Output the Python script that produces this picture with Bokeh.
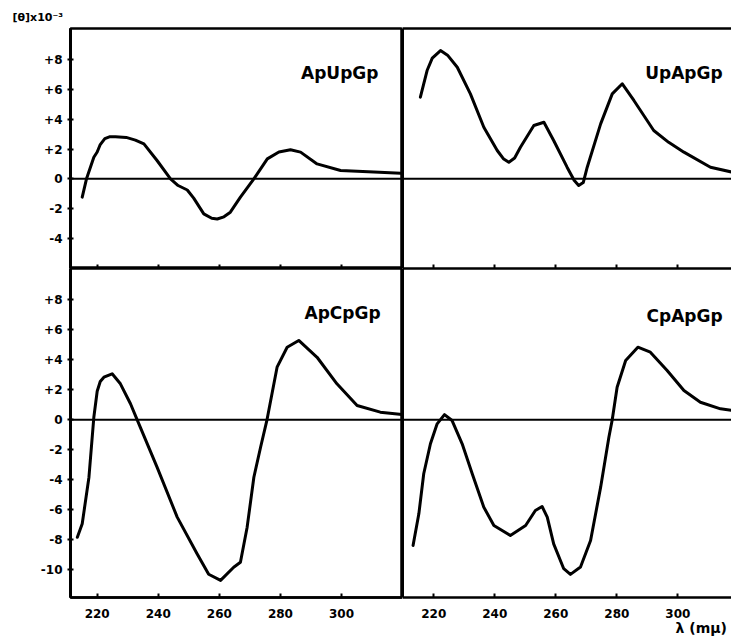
from bokeh.plotting import figure
from bokeh.layouts import row, column
from bokeh.models import Range1d, Span, Label, LinearAxis, FixedTicker, Title
from bokeh.embed import file_html
from bokeh.resources import INLINE

FONT = "DejaVu Sans"

# ---------------- data ----------------
wavelength_ticks = [220, 240, 260, 280, 300]
top_tick_values = [-4, -2, 0, 2, 4, 6, 8]
top_tick_labels = ["-4", "-2", "0", "+2", "+4", "+6", "+8"]
bottom_tick_values = [-10, -8, -6, -4, -2, 0, 2, 4, 6, 8]
bottom_tick_labels = ["-10", "-8", "-6", "-4", "-2", "0", "+2", "+4", "+6", "+8"]

apupgp_wl = [215.1, 216.5, 218.9, 220.0, 221.0, 222.5, 224.0, 226.0, 229.5, 232.5, 235.3,
             239.6, 244.0, 246.5, 249.5, 251.6, 254.9, 257.5, 259.3, 261.5, 263.6, 266.9,
             271.3, 275.7, 279.5, 283.3, 286.6, 292.0, 299.7, 310.6, 319.4]
apupgp_val = [-1.23, 0.0, 1.45, 1.8, 2.3, 2.7, 2.82, 2.82, 2.78, 2.6, 2.35,
              1.23, 0.0, -0.45, -0.75, -1.3, -2.35, -2.65, -2.7, -2.55, -2.24, -1.23,
              0.0, 1.34, 1.8, 1.95, 1.79, 1.0, 0.56, 0.45, 0.38]

upapgp_wl = [215.6, 217.8, 219.5, 222.2, 224.5, 227.7, 232.0, 236.4, 240.8, 242.8, 244.6,
             246.5, 248.4, 252.8, 256.1, 259.3, 263.7, 266.0, 267.5, 269.0, 270.3, 274.7,
             278.5, 281.8, 285.6, 292.1, 297.0, 302.0, 310.7, 317.8]
upapgp_val = [5.48, 7.27, 8.1, 8.61, 8.3, 7.49, 5.7, 3.46, 1.9, 1.35, 1.11,
              1.4, 2.12, 3.58, 3.8, 2.57, 0.78, -0.1, -0.45, -0.25, 0.78, 3.69,
              5.7, 6.38, 5.26, 3.24, 2.45, 1.79, 0.78, 0.45]

apcpgp_wl = [213.5, 215.1, 217.3, 218.9, 220.0, 221.0, 222.2, 224.9, 227.6, 230.9, 233.1,
             239.6, 246.2, 252.7, 256.5, 260.4, 264.7, 266.9, 269.1, 271.3, 273.5, 275.6,
             278.9, 282.2, 286.0, 292.0, 298.5, 305.1, 312.7, 319.8]
apcpgp_val = [-7.83, -6.93, -3.83, 0.17, 1.9, 2.55, 2.84, 3.07, 2.4, 1.07, 0.0,
              -3.16, -6.49, -8.93, -10.3, -10.71, -9.83, -9.5, -7.16, -3.83, -1.83, 0.0,
              3.51, 4.84, 5.29, 4.17, 2.4, 0.95, 0.51, 0.35]

cpapgp_wl = [213.2, 215.1, 216.7, 218.9, 221.1, 223.5, 226.0, 229.3, 232.6, 236.4, 239.7,
             245.1, 250.1, 253.3, 255.5, 257.2, 259.3, 262.6, 264.8, 268.1, 271.4, 274.7,
             277.4, 278.5, 280.1, 282.9, 286.9, 291.0, 296.5, 302.0, 307.4, 314.0, 318.4]
cpapgp_val = [-8.38, -6.27, -3.6, -1.6, -0.27, 0.35, -0.05, -1.6, -3.6, -5.83, -7.05,
              -7.71, -7.05, -6.05, -5.78, -6.49, -8.27, -9.93, -10.31, -9.82, -8.05, -4.49,
              -1.16, 0.0, 2.17, 3.95, 4.84, 4.51, 3.29, 1.95, 1.17, 0.73, 0.62]


# ---------------- helpers ----------------
def hide_labels(ax):
    ax.major_label_text_font_size = "0px"
    ax.major_label_text_color = None
    ax.major_label_standoff = 0
    ax.axis_label = None


def make_panel(width, height, xr, yr, bl, bt, bb, is_left, show_xlabels,
               yticks, ylabels, name, label_x, label_y):
    p = figure(width=width, height=height,
               x_range=Range1d(*xr), y_range=Range1d(*yr),
               output_backend="svg", toolbar_location=None,
               min_border_left=bl, min_border_right=0,
               min_border_top=bt, min_border_bottom=bb)
    p.xgrid.visible = False
    p.ygrid.visible = False
    p.background_fill_color = "white"
    p.border_fill_color = "white"

    xa = p.xaxis[0]
    xa.ticker = FixedTicker(ticks=wavelength_ticks)
    xa.axis_line_color = "black"
    xa.axis_line_width = 2.5
    xa.major_tick_line_color = "black"
    xa.major_tick_line_width = 2
    xa.major_tick_in = 4
    xa.major_tick_out = 0
    xa.minor_tick_line_color = None
    if show_xlabels:
        xa.major_label_text_font = FONT
        xa.major_label_text_font_style = "bold"
        xa.major_label_text_font_size = "12px"
        xa.major_label_text_color = "black"
        xa.major_label_standoff = 11
    else:
        hide_labels(xa)

    ya = p.yaxis[0]
    ya.axis_line_color = "black"
    ya.axis_line_width = 3
    ya.minor_tick_line_color = None
    if is_left:
        ya.ticker = FixedTicker(ticks=yticks)
        ya.major_label_overrides = {v: s for v, s in zip(yticks, ylabels)}
        ya.major_label_text_font = FONT
        ya.major_label_text_font_style = "bold"
        ya.major_label_text_font_size = "12px"
        ya.major_label_text_color = "black"
        ya.major_tick_line_color = "black"
        ya.major_tick_line_width = 2
        ya.major_tick_in = 3
        ya.major_tick_out = 3
        ya.major_label_standoff = 5
        p.outline_line_color = "black"
        p.outline_line_width = 2.5
        p.outline_line_alpha = 1.0
    else:
        ya.ticker = FixedTicker(ticks=[])
        ya.major_tick_line_color = None
        ya.major_tick_in = 0
        ya.major_tick_out = 0
        hide_labels(ya)
        p.outline_line_color = None
        top = LinearAxis(ticker=FixedTicker(ticks=[]))
        top.axis_line_color = "black"
        top.axis_line_width = 2.5
        top.major_tick_in = 0
        top.major_tick_out = 0
        top.minor_tick_line_color = None
        hide_labels(top)
        p.add_layout(top, "above")

    p.add_layout(Span(location=0, dimension="width", line_color="black", line_width=2))

    p.add_layout(Label(x=label_x, y=label_y, text=name, text_align="right",
                       text_baseline="alphabetic", text_font=FONT,
                       text_font_style="bold", text_font_size="17px",
                       text_color="black"))
    return p


LEFT_X = (211.26, 319.97)
RIGHT_X = (209.74, 317.6)
TOP_Y = (-6.02, 10.09)
BOT_Y = (-11.85, 10.09)

p1 = make_panel(402, 268, LEFT_X, TOP_Y, 70, 28, 0, True, False,
                top_tick_values, top_tick_labels, "ApUpGp", 312.1, 7.13)
p2 = make_panel(329, 268, RIGHT_X, TOP_Y, 0, 28, 0, False, False,
                None, None, "UpApGp", 314.7, 7.07)
p3 = make_panel(402, 368, LEFT_X, BOT_Y, 70, 0, 39, True, True,
                bottom_tick_values, bottom_tick_labels, "ApCpGp", 312.8, 7.15)
p4 = make_panel(329, 368, RIGHT_X, BOT_Y, 0, 0, 39, False, True,
                None, None, "CpApGp", 314.7, 6.9)

for p, xs, ys in [(p1, apupgp_wl, apupgp_val), (p2, upapgp_wl, upapgp_val),
                  (p3, apcpgp_wl, apcpgp_val), (p4, cpapgp_wl, cpapgp_val)]:
    p.line(xs, ys, line_color="black", line_width=3, line_join="round", line_cap="round")

# y-axis title above the top-left frame (as the plot title, shifted left)
p1.title.text = "[θ]x10⁻³"
p1.title.align = "left"
p1.title.vertical_align = "top"
p1.title.offset = -58
p1.title.standoff = 5
p1.title.text_font = FONT
p1.title.text_font_style = "bold"
p1.title.text_font_size = "11px"
p1.title.text_color = "black"

# x-axis title below the bottom-right frame
p4.add_layout(Title(text="λ (mμ)", align="left", offset=273, standoff=-6,
                    text_font=FONT, text_font_style="bold", text_font_size="14px",
                    text_color="black"), "below")

layout = column(row(p1, p2), row(p3, p4))

open("out.html", "w").write(file_html(layout, INLINE))
